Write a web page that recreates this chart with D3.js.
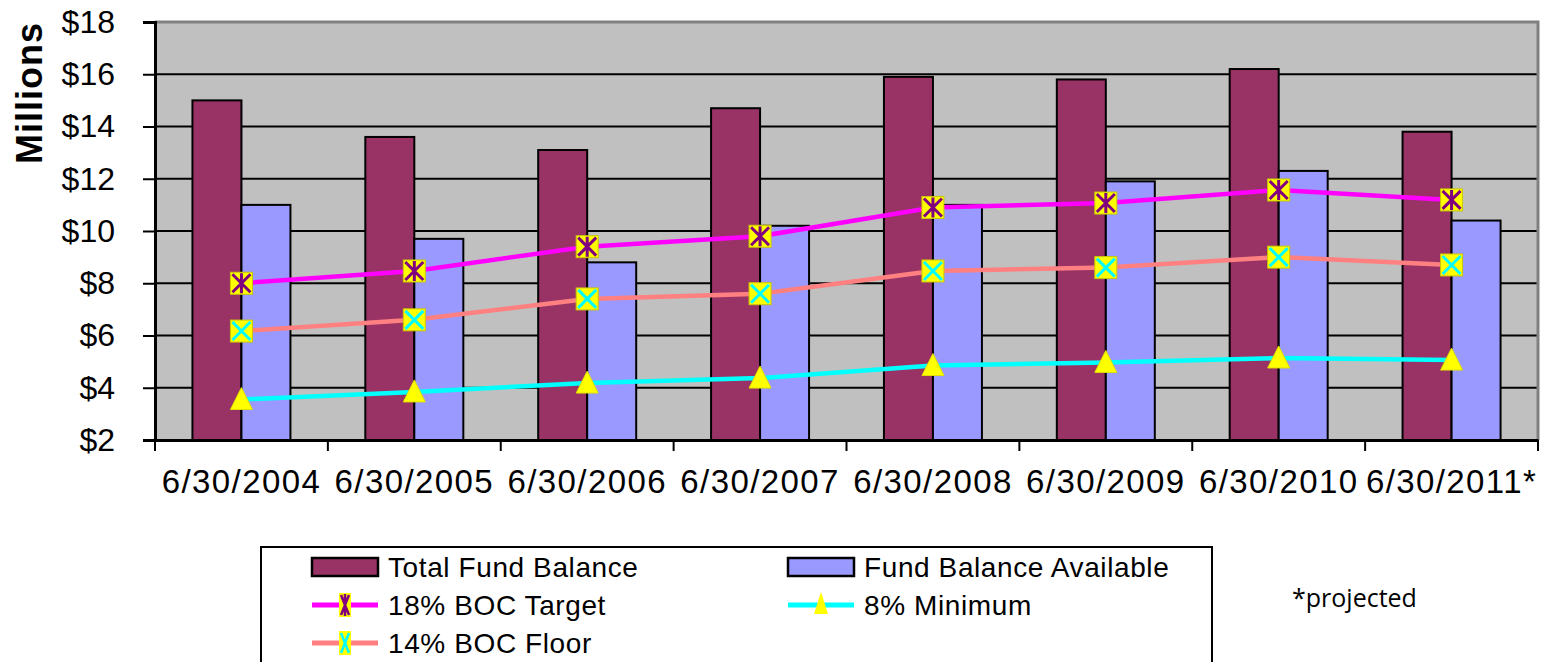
<!DOCTYPE html>
<html>
<head>
<meta charset="utf-8">
<script src="https://cdn.jsdelivr.net/npm/d3@7"></script>
<style>
  html, body { margin: 0; padding: 0; background: #fff; }
  svg { display: block; }
</style>
</head>
<body>
<svg id="chart" width="1541" height="662"></svg>
<script>
// ---- data ----
const categories = ["6/30/2004","6/30/2005","6/30/2006","6/30/2007","6/30/2008","6/30/2009","6/30/2010","6/30/2011*"];
const totalFundBalance     = [15.0, 13.6, 13.1, 14.7, 15.9, 15.8, 16.2, 13.8];
const fundBalanceAvailable = [11.0, 9.7, 8.8, 10.2, 11.0, 11.9, 12.3, 10.4];
const target18 = [8.0, 8.47, 9.4, 9.8, 10.9, 11.07, 11.57, 11.19];
const floor14  = [6.17, 6.6, 7.4, 7.6, 8.47, 8.6, 9.0, 8.70];
const minimum8 = [3.55, 3.84, 4.18, 4.37, 4.85, 4.97, 5.14, 5.06];
const yTicks = [2, 4, 6, 8, 10, 12, 14, 16, 18];
const yTickLabels = ["$2","$4","$6","$8","$10","$12","$14","$16","$18"];
const legendLabels = ["Total Fund Balance","Fund Balance Available","18% BOC Target","8% Minimum","14% BOC Floor"];
const footnote = "*projected";

// ---- layout ----
const svg = d3.select("#chart");
const L = 155, R = 1538, T = 22, B = 440;
const FONT = "'Liberation Sans', Arial, sans-serif";

const x = d3.scaleBand().domain(categories).range([L, R]).paddingInner(0).paddingOuter(0);
const y = d3.scaleLinear().domain([2, 18]).range([B, T]);
const barW = 49;

// plot background
svg.append("rect").attr("x", L).attr("y", T).attr("width", R - L).attr("height", B - T)
  .attr("fill", "#C0C0C0");

// gridlines
svg.append("g").selectAll("line").data(yTicks.filter(v => v > 2 && v < 18)).join("line")
  .attr("x1", L).attr("x2", R).attr("y1", d => y(d)).attr("y2", d => y(d))
  .attr("stroke", "#000").attr("stroke-width", 2);

// gray frame top/right
svg.append("path")
  .attr("d", `M${L},${T} H${R} V${B}`)
  .attr("fill", "none").attr("stroke", "#808080").attr("stroke-width", 3);

// bars
const bars = svg.append("g");
bars.selectAll("rect.t").data(categories).join("rect")
  .attr("x", d => x(d) + x.bandwidth() / 2 - barW)
  .attr("y", (d, i) => y(totalFundBalance[i]))
  .attr("width", barW)
  .attr("height", (d, i) => B - y(totalFundBalance[i]))
  .attr("fill", "#993366").attr("stroke", "#000").attr("stroke-width", 2);
bars.selectAll("rect.a").data(categories).join("rect")
  .attr("x", d => x(d) + x.bandwidth() / 2)
  .attr("y", (d, i) => y(fundBalanceAvailable[i]))
  .attr("width", barW)
  .attr("height", (d, i) => B - y(fundBalanceAvailable[i]))
  .attr("fill", "#9999FF").attr("stroke", "#000").attr("stroke-width", 2);

// axes
const yAxis = d3.axisLeft(y).tickValues(yTicks).tickFormat((d, i) => yTickLabels[i])
  .tickSize(12).tickPadding(28);
const gy = svg.append("g").attr("transform", `translate(${L},0)`).call(yAxis);
gy.select(".domain").attr("stroke", "#000").attr("stroke-width", 3);
gy.selectAll(".tick line").attr("stroke", "#000").attr("stroke-width", 2);
gy.selectAll(".tick text").attr("font-family", FONT).attr("font-size", 32).attr("fill", "#000");

const xAxis = d3.axisBottom(x).tickSize(0).tickPadding(0);
const gx = svg.append("g").attr("transform", `translate(0,${B})`).call(xAxis);
gx.select(".domain").attr("stroke", "#000").attr("stroke-width", 3);
gx.selectAll(".tick text").attr("font-family", FONT).attr("font-size", 33).attr("fill", "#000")
  .attr("letter-spacing", 1.4).attr("dy", 0).attr("y", 53);
// x tick marks at category boundaries
const bounds = categories.map(c => x(c)).concat([R]);
svg.append("g").selectAll("line").data(bounds).join("line")
  .attr("x1", d => d).attr("x2", d => d).attr("y1", B).attr("y2", B + 11)
  .attr("stroke", "#000").attr("stroke-width", 2);

// axis title
svg.append("text").attr("transform", "translate(42,93) rotate(-90)")
  .attr("text-anchor", "middle").attr("font-family", FONT).attr("font-weight", "bold")
  .attr("font-size", 36).attr("letter-spacing", 1).attr("fill", "#000").text("Millions");

// ---- lines & markers ----
const cx = d => x(d) + x.bandwidth() / 2;
const lineGen = vals => d3.line().x((d) => cx(d)).y((d, i) => y(vals[i]))(categories);

function squareMarker(g, px, py, kind) {
  const s = 11;
  g.append("rect").attr("x", px - s).attr("y", py - s).attr("width", 2 * s).attr("height", 2 * s)
    .attr("fill", "#FFFF00").attr("stroke", "#C8C800").attr("stroke-width", 1);
  const c = kind === "star" ? "#800080" : "#00FFFF";
  const k = 9;
  g.append("path").attr("d", `M${px - k},${py - k} L${px + k},${py + k} M${px - k},${py + k} L${px + k},${py - k}` +
      (kind === "star" ? ` M${px},${py - 10} V${py + 10}` : ""))
    .attr("stroke", c).attr("stroke-width", 3).attr("fill", "none");
}
function triMarker(g, px, py) {
  const h = 12;
  g.append("path").attr("d", `M${px},${py - h} L${px + 11},${py + 10} L${px - 11},${py + 10} Z`)
    .attr("fill", "#FFFF00").attr("stroke", "#E0E000").attr("stroke-width", 1);
}

const series = [
  { vals: target18, color: "#FF00FF", marker: "star" },
  { vals: floor14,  color: "#FF8080", marker: "x" },
  { vals: minimum8, color: "#00FFFF", marker: "tri" }
];
const lg = svg.append("g");
series.forEach(s => {
  lg.append("path").attr("d", lineGen(s.vals)).attr("fill", "none")
    .attr("stroke", s.color).attr("stroke-width", 4.5);
});
series.forEach(s => {
  categories.forEach((c, i) => {
    if (s.marker === "tri") triMarker(lg, cx(c), y(s.vals[i]));
    else squareMarker(lg, cx(c), y(s.vals[i]), s.marker);
  });
});

// ---- legend ----
const leg = svg.append("g");
leg.append("rect").attr("x", 261).attr("y", 547).attr("width", 951).attr("height", 140)
  .attr("fill", "#fff").attr("stroke", "#000").attr("stroke-width", 2);
const rowY = [567, 605, 643];
const colX = [312, 788];
const items = [
  { label: legendLabels[0], type: "bar", color: "#993366", col: 0, row: 0 },
  { label: legendLabels[1], type: "bar", color: "#9999FF", col: 1, row: 0 },
  { label: legendLabels[2], type: "line", color: "#FF00FF", marker: "star", col: 0, row: 1 },
  { label: legendLabels[3], type: "line", color: "#00FFFF", marker: "tri", col: 1, row: 1 },
  { label: legendLabels[4], type: "line", color: "#FF8080", marker: "x", col: 0, row: 2 }
];
items.forEach(it => {
  const x0 = colX[it.col], yc = rowY[it.row];
  if (it.type === "bar") {
    leg.append("rect").attr("x", x0).attr("y", yc - 9).attr("width", 66).attr("height", 18)
      .attr("fill", it.color).attr("stroke", "#000").attr("stroke-width", 2.5);
  } else {
    leg.append("line").attr("x1", x0).attr("x2", x0 + 66).attr("y1", yc).attr("y2", yc)
      .attr("stroke", it.color).attr("stroke-width", 5);
    if (it.marker === "tri") {
      leg.append("path").attr("d", `M${x0 + 33},${yc - 13} L${x0 + 40},${yc + 9} L${x0 + 26},${yc + 9} Z`)
        .attr("fill", "#FFFF00");
    } else {
      const px = x0 + 33;
      leg.append("rect").attr("x", px - 6).attr("y", yc - 12).attr("width", 12).attr("height", 24)
        .attr("fill", "#FFFF00");
      const c = it.marker === "star" ? "#800080" : "#00FFFF";
      leg.append("path").attr("d", `M${px - 4},${yc - 10} L${px + 4},${yc + 10} M${px - 4},${yc + 10} L${px + 4},${yc - 10}` +
          (it.marker === "star" ? ` M${px},${yc - 11} V${yc + 11}` : ""))
        .attr("stroke", c).attr("stroke-width", 2.5).attr("fill", "none");
    }
  }
  leg.append("text").attr("x", x0 + 76).attr("y", yc + 10)
    .attr("font-family", FONT).attr("font-size", 28).attr("letter-spacing", 0.6)
    .attr("fill", "#000").text(it.label);
});

// footnote
svg.append("text").attr("x", 1292).attr("y", 607)
  .attr("font-family", "'Open Sans', 'Noto Sans', sans-serif").attr("font-size", 25).attr("fill", "#000")
  .text(footnote);
</script>
</body>
</html>
